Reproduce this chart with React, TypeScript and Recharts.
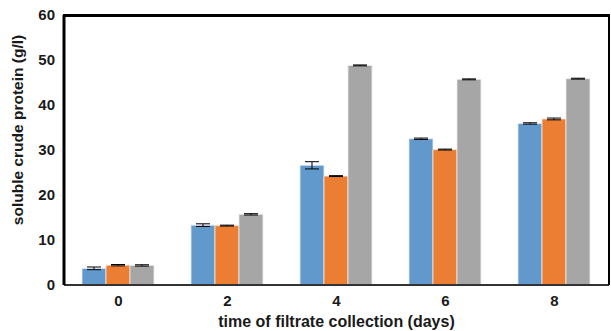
import React from "react";
import { BarChart, Bar, XAxis, YAxis, ErrorBar } from "recharts";

const days = ["0", "2", "4", "6", "8"];
const seriesA = [3.7, 13.3, 26.6, 32.5, 35.9];
const errA = [0.3, 0.3, 0.8, 0.15, 0.15];
const seriesB = [4.4, 13.2, 24.2, 30.1, 36.9];
const errB = [0.15, 0.1, 0.1, 0.1, 0.2];
const seriesC = [4.35, 15.7, 48.8, 45.7, 45.85];
const errC = [0.15, 0.15, 0.1, 0.1, 0.1];
const yTicks = [0, 10, 20, 30, 40, 50, 60];
const yMax = 60;

const CHART_W = 611;
const CHART_H = 331;
const MARGIN = { top: 15, right: 1, left: 0, bottom: 0 };
const Y_AXIS_W = 64;
const RIGHT_AXIS_W = 1;

const data = days.map((d, i) => ({
  day: d,
  a: seriesA[i],
  ea: errA[i],
  b: seriesB[i],
  eb: errB[i],
  c: seriesC[i],
  ec: errC[i],
}));

const FONT = "'Liberation Sans', Arial, sans-serif";
const tickStyle = { fontFamily: FONT, fontWeight: 700, fontSize: 15, fill: "#1a1a1a" };

const YTitle = (props: any) => {
  const vb = props.viewBox;
  const x = vb.x + 17;
  const y = vb.y + vb.height / 2 - 20;
  return (
    <text
      x={x}
      y={y}
      transform={`rotate(-90, ${x}, ${y})`}
      textAnchor="middle"
      dominantBaseline="central"
      style={{ fontFamily: FONT, fontWeight: 700, fontSize: 15.5, fill: "#1a1a1a" }}
    >
      soluble crude protein (g/l)
    </text>
  );
};

export default function App() {
  const frameLeft = MARGIN.left + Y_AXIS_W - 1.5;
  const frameRight = CHART_W - MARGIN.right - RIGHT_AXIS_W + 1;
  return (
    <div style={{ position: "fixed", left: 0, top: 0, width: CHART_W, height: CHART_H, background: "#fff" }}>
      <BarChart
        width={CHART_W}
        height={CHART_H}
        data={data}
        margin={MARGIN}
        barCategoryGap="16.5%"
        barGap={0}
      >
        <XAxis
          dataKey="day"
          height={46}
          tickLine={false}
          tickSize={0}
          tickMargin={10}
          tick={tickStyle}
          axisLine={{ stroke: "#333", strokeWidth: 2 }}
          label={{
            value: "time of filtrate collection (days)",
            position: "insideBottom",
            offset: 4,
            style: { fontFamily: FONT, fontWeight: 700, fontSize: 16, fill: "#1a1a1a" },
          }}
        />
        <YAxis
          domain={[0, yMax]}
          ticks={yTicks}
          width={Y_AXIS_W}
          tickLine={false}
          tickSize={0}
          tickMargin={9}
          tick={tickStyle}
          axisLine={{ stroke: "#000", strokeWidth: 3 }}
          label={<YTitle />}
        />
        <YAxis
          yAxisId="right"
          orientation="right"
          domain={[0, yMax]}
          width={RIGHT_AXIS_W}
          tick={false}
          tickLine={false}
          axisLine={{ stroke: "#000", strokeWidth: 2 }}
        />
        <Bar dataKey="a" fill="#6299CC" stroke="#e8eef5" strokeWidth={0.8} isAnimationActive={false}>
          <ErrorBar dataKey="ea" width={7} stroke="#000" strokeWidth={1} />
        </Bar>
        <Bar dataKey="b" fill="#EC7E33" stroke="#f5e8df" strokeWidth={0.8} isAnimationActive={false}>
          <ErrorBar dataKey="eb" width={7} stroke="#000" strokeWidth={1} />
        </Bar>
        <Bar dataKey="c" fill="#A6A6A6" stroke="#eeeeee" strokeWidth={0.8} isAnimationActive={false}>
          <ErrorBar dataKey="ec" width={7} stroke="#000" strokeWidth={1} />
        </Bar>
      </BarChart>
      <div
        style={{
          position: "absolute",
          left: frameLeft,
          top: MARGIN.top - 1.5,
          width: frameRight - frameLeft,
          height: 3,
          background: "#000",
          pointerEvents: "none",
        }}
      />
    </div>
  );
}
